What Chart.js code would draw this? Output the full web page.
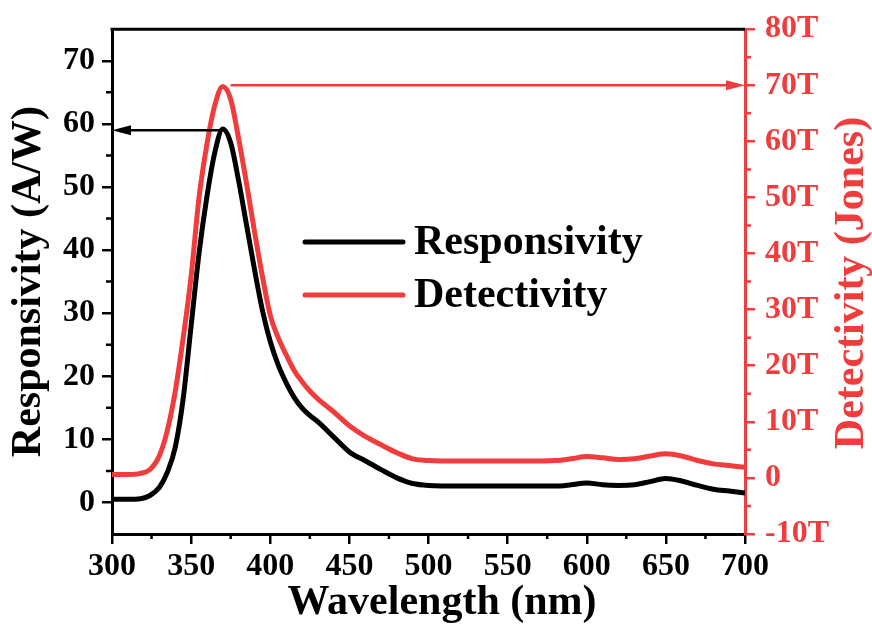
<!DOCTYPE html>
<html>
<head>
<meta charset="utf-8">
<script src="https://cdn.jsdelivr.net/npm/chart.js@4.4.1/dist/chart.umd.min.js"></script>
<style>
  html, body { margin: 0; padding: 0; background: #fff; }
  #wrap { width: 872px; height: 629px; }
</style>
</head>
<body>
<div id="wrap"><canvas id="chart" width="872" height="629"></canvas></div>
<script>
// shared wavelength grid (nm)
const wavelengths = [300, 310, 318, 324, 330, 335, 340, 345, 350, 355, 360, 365, 370, 375, 380, 385, 390, 395, 400, 405, 410, 415, 420, 425, 430, 440, 450, 460, 470, 480, 490, 500, 520, 540, 560, 580, 590, 600, 610, 620, 630, 640, 650, 660, 670, 680, 690, 700];

// responsivity (A/W)
const responsivity = [0.5, 0.5, 0.6, 1.1, 2.4, 4.8, 8.8, 16.5, 28, 39.5, 48.5, 55.5, 59.2, 57, 51, 44, 37, 30.5, 25.5, 21.8, 19, 16.7, 15, 13.8, 12.8, 10.4, 8, 6.6, 5.2, 3.9, 3.0, 2.7, 2.6, 2.6, 2.6, 2.6, 2.8, 3.1, 2.8, 2.7, 2.8, 3.3, 3.8, 3.4, 2.7, 2.1, 1.8, 1.5];

// detectivity (10^12 Jones, "T")
const detectivity = [0.6, 0.6, 0.8, 1.5, 4, 8.5, 15.5, 25, 36, 50, 59.5, 66.5, 69.8, 67.5, 60.5, 52.5, 44, 36, 29, 25, 22, 19.2, 17.2, 15.5, 14.1, 11.8, 9.3, 7.4, 5.9, 4.5, 3.4, 3.1, 3.0, 3.0, 3.0, 3.1, 3.4, 3.8, 3.6, 3.3, 3.4, 3.9, 4.3, 3.9, 3.1, 2.5, 2.2, 1.9];

const seriesNames = ['Responsivity', 'Detectivity'];

// axis ticks
const xTicks = [300, 350, 400, 450, 500, 550, 600, 650, 700];
const leftTicks = [0, 10, 20, 30, 40, 50, 60, 70];
const rightTicks = [-10, 0, 10, 20, 30, 40, 50, 60, 70, 80];
const rightTickLabels = ['-10T', '0', '10T', '20T', '30T', '40T', '50T', '60T', '70T', '80T'];

// arrows pointing from each peak to its own axis (data units)
const respArrow = { from: 368, to: 300, value: 59 };
const detArrow = { from: 375, to: 700, value: 70 };

const BLACK = '#000000';
const RED = '#f03c3c';
const FONT = "'Liberation Serif', 'Times New Roman', serif";

Chart.defaults.font.family = FONT;
Chart.defaults.font.weight = 'bold';

function toPoints(ys) {
  return wavelengths.map((w, i) => ({ x: w, y: ys[i] }));
}

function arrow(ctx, x1, x2, y, color) {
  const dir = x2 > x1 ? 1 : -1;
  const headLen = 19, headHalf = 5;
  ctx.strokeStyle = color;
  ctx.fillStyle = color;
  ctx.lineWidth = 2.5;
  ctx.beginPath();
  ctx.moveTo(x1, y);
  ctx.lineTo(x2 - dir * headLen, y);
  ctx.stroke();
  ctx.beginPath();
  ctx.moveTo(x2, y);
  ctx.lineTo(x2 - dir * headLen, y - headHalf);
  ctx.lineTo(x2 - dir * headLen, y + headHalf);
  ctx.closePath();
  ctx.fill();
}

// frame top, minor ticks, arrows, legend, axis titles
const decor = {
  id: 'decor',
  afterDraw(chart) {
    const { ctx, chartArea: a, scales } = chart;
    const x = scales.x, y = scales.y, y1 = scales.y1;
    ctx.save();

    ctx.lineWidth = 3;
    ctx.strokeStyle = BLACK;
    ctx.beginPath();
    ctx.moveTo(a.left - 1.5, a.top);
    ctx.lineTo(a.right, a.top);
    ctx.stroke();

    // minor ticks
    ctx.lineWidth = 2.5;
    ctx.beginPath();
    for (let v = 325; v < 700; v += 50) {
      const px = x.getPixelForValue(v);
      ctx.moveTo(px, a.bottom);
      ctx.lineTo(px, a.bottom + 5);
    }
    for (let v = 5; v < 75; v += 10) {
      const py = y.getPixelForValue(v);
      ctx.moveTo(a.left - 6, py);
      ctx.lineTo(a.left, py);
    }
    ctx.stroke();
    ctx.strokeStyle = RED;
    ctx.beginPath();
    for (let v = -5; v < 80; v += 10) {
      const py = y1.getPixelForValue(v);
      ctx.moveTo(a.right, py);
      ctx.lineTo(a.right + 6, py);
    }
    ctx.stroke();

    // arrows
    arrow(ctx, x.getPixelForValue(respArrow.from), x.getPixelForValue(respArrow.to),
      y.getPixelForValue(respArrow.value), BLACK);
    arrow(ctx, x.getPixelForValue(detArrow.from), x.getPixelForValue(detArrow.to),
      y1.getPixelForValue(detArrow.value), RED);

    // legend
    const ds = chart.data.datasets;
    const order = [1, 0];
    ctx.font = 'bold 42px ' + FONT;
    ctx.textBaseline = 'middle';
    ctx.textAlign = 'left';
    order.forEach((di, row) => {
      const ly = 242 + row * 53;
      ctx.strokeStyle = ds[di].borderColor;
      ctx.lineWidth = 5;
      ctx.lineCap = 'round';
      ctx.beginPath();
      ctx.moveTo(305, ly);
      ctx.lineTo(403, ly);
      ctx.stroke();
      ctx.fillStyle = BLACK;
      ctx.fillText(ds[di].label, 414, ly + 1);
    });

    // x axis title (sits a little right of the plot centre)
    ctx.textAlign = 'center';
    ctx.fillStyle = BLACK;
    ctx.fillText('Wavelength (nm)', 442, 603);

    // right axis title, reading bottom to top
    ctx.fillStyle = RED;
    ctx.translate(852, 283);
    ctx.rotate(-Math.PI / 2);
    ctx.fillText('Detectivity (Jones)', 0, 0);

    ctx.restore();
  }
};

new Chart(document.getElementById('chart'), {
  type: 'line',
  data: {
    datasets: [
      {
        label: seriesNames[1],
        data: toPoints(detectivity),
        yAxisID: 'y1',
        borderColor: RED,
        borderWidth: 5,
        pointRadius: 0,
        cubicInterpolationMode: 'monotone',
        fill: false
      },
      {
        label: seriesNames[0],
        data: toPoints(responsivity),
        yAxisID: 'y',
        borderColor: BLACK,
        borderWidth: 5,
        pointRadius: 0,
        cubicInterpolationMode: 'monotone',
        fill: false
      }
    ]
  },
  options: {
    responsive: false,
    animation: false,
    layout: { padding: { top: 22, left: 0, right: 0, bottom: 0 } },
    plugins: {
      legend: { display: false },
      tooltip: { enabled: false }
    },
    scales: {
      x: {
        type: 'linear',
        min: 300,
        max: 700,
        afterBuildTicks: s => { s.ticks = xTicks.map(v => ({ value: v })); },
        afterFit: s => { s.height = 95; },
        border: { color: BLACK, width: 3 },
        grid: { drawOnChartArea: false, drawTicks: true, tickLength: 10, color: BLACK, lineWidth: 2.5 },
        ticks: { color: BLACK, font: { size: 32, weight: 'bold' }, padding: 4, maxRotation: 0 }
      },
      y: {
        type: 'linear',
        position: 'left',
        min: -5,
        max: 75,
        afterBuildTicks: s => { s.ticks = leftTicks.map(v => ({ value: v })); },
        afterFit: s => { s.width = 112; },
        border: { color: BLACK, width: 3 },
        grid: { drawOnChartArea: false, drawTicks: true, tickLength: 10, color: BLACK, lineWidth: 2.5 },
        ticks: { color: BLACK, font: { size: 32, weight: 'bold' }, padding: 7 },
        title: {
          display: true,
          text: 'Responsivity (A/W)',
          color: BLACK,
          font: { size: 42, weight: 'bold' },
          padding: { top: 4, bottom: 0 }
        }
      },
      y1: {
        type: 'linear',
        position: 'right',
        min: -10,
        max: 80,
        afterBuildTicks: s => { s.ticks = rightTicks.map(v => ({ value: v })); },
        afterFit: s => { s.width = 127; },
        border: { color: RED, width: 3 },
        grid: { drawOnChartArea: false, drawTicks: true, tickLength: 10, color: RED, lineWidth: 2.5 },
        ticks: {
          color: RED,
          font: { size: 32, weight: 'bold' },
          padding: 10,
          callback: v => rightTickLabels[rightTicks.indexOf(v)]
        }
      }
    }
  },
  plugins: [decor]
});
</script>
</body>
</html>
